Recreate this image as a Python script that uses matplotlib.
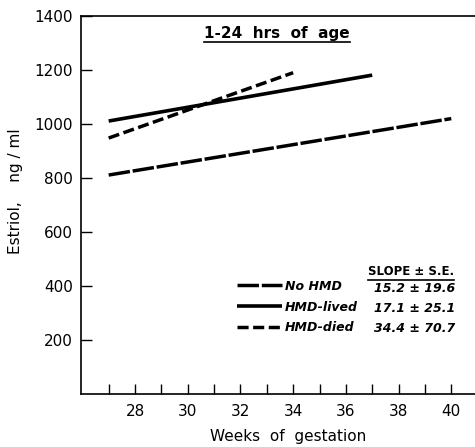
import matplotlib
matplotlib.use("Agg")
from matplotlib import pyplot as plt
from matplotlib.lines import Line2D

# regression lines (start / end of each fitted line)
groups = ["No HMD", "HMD-lived", "HMD-died"]
slopes = ["15.2 ± 19.6", "17.1 ± 25.1", "34.4 ± 70.7"]
no_hmd_weeks = [27, 40]
no_hmd_estriol = [811, 1020]
lived_weeks = [27, 37]
lived_estriol = [1011, 1181]
died_weeks = [27, 34]
died_estriol = [948, 1190]
x_ticks = list(range(27, 41))
x_labels = [str(w) if w % 2 == 0 else "" for w in x_ticks]
y_ticks = [200, 400, 600, 800, 1000, 1200, 1400]

plt.rcParams["font.family"] = "DejaVu Sans"

fig = plt.figure(figsize=(4.75, 4.47), dpi=100)
ax = fig.add_axes([81 / 475, 1 - 394 / 447, 1 - 81 / 475, (394 - 16) / 447])

styles = [
    dict(color="black", lw=2.5, dashes=(6.2, 0.8), solid_capstyle="butt"),
    dict(color="black", lw=2.6, linestyle="-", solid_capstyle="butt"),
    dict(color="black", lw=2.5, dashes=(3.2, 1.3), solid_capstyle="butt"),
]
handles = []
for (wk, es), st, name in zip(
    [(no_hmd_weeks, no_hmd_estriol), (lived_weeks, lived_estriol), (died_weeks, died_estriol)],
    styles, groups):
    (ln,) = ax.plot(wk, es, label=name, **st)
    handles.append(ln)

ax.set_xlim(25.95, 40.9)
ax.set_ylim(0, 1400)
ax.set_xticks(x_ticks)
ax.set_xticklabels(x_labels)
ax.set_yticks(y_ticks)
ax.tick_params(axis="x", direction="in", length=7, width=1, pad=7, labelsize=11)
ax.tick_params(axis="y", direction="in", length=8, width=1, pad=6, labelsize=11)
ax.spines["right"].set_visible(False)
for s in ("left", "bottom", "top"):
    ax.spines[s].set_linewidth(1.2)

fig.text(16 / 475, 1 - 191 / 447, "Estriol,    ng / ml", rotation=90,
         ha="center", va="center", fontsize=11)
fig.text(288 / 475, 1 - 436 / 447, "Weeks  of  gestation", ha="center",
         va="center", fontsize=11)

title = ax.text(0.497, 0.955, "1-24  hrs  of  age", transform=ax.transAxes,
                ha="center", va="center", fontsize=11, fontweight="bold")

leg = ax.legend(handles=handles, loc="upper left", bbox_to_anchor=(0.395, 0.302),
                frameon=False, borderpad=0, borderaxespad=0, handlelength=3.6,
                handletextpad=0.25, labelspacing=0.62,
                prop=dict(size=9, style="italic", weight="bold"))

header = ax.text(0.838, 0.323, "SLOPE ± S.E.", transform=ax.transAxes,
                 ha="center", va="center", fontsize=8.5, fontweight="bold")
row_y = [0.280, 0.2275, 0.172]
for y, s in zip(row_y, slopes):
    ax.text(0.744, y, s, transform=ax.transAxes, ha="left", va="center",
            fontsize=9, style="italic", fontweight="bold")

# underline title and slope header
fig.canvas.draw()
for t in (title, header):
    bb = t.get_window_extent()
    y0 = bb.y0 - 1.5
    fig.add_artist(Line2D([bb.x0, bb.x1], [y0, y0], transform=None,
                          color="black", lw=1.2))

plt.savefig("out.png", dpi=100)
